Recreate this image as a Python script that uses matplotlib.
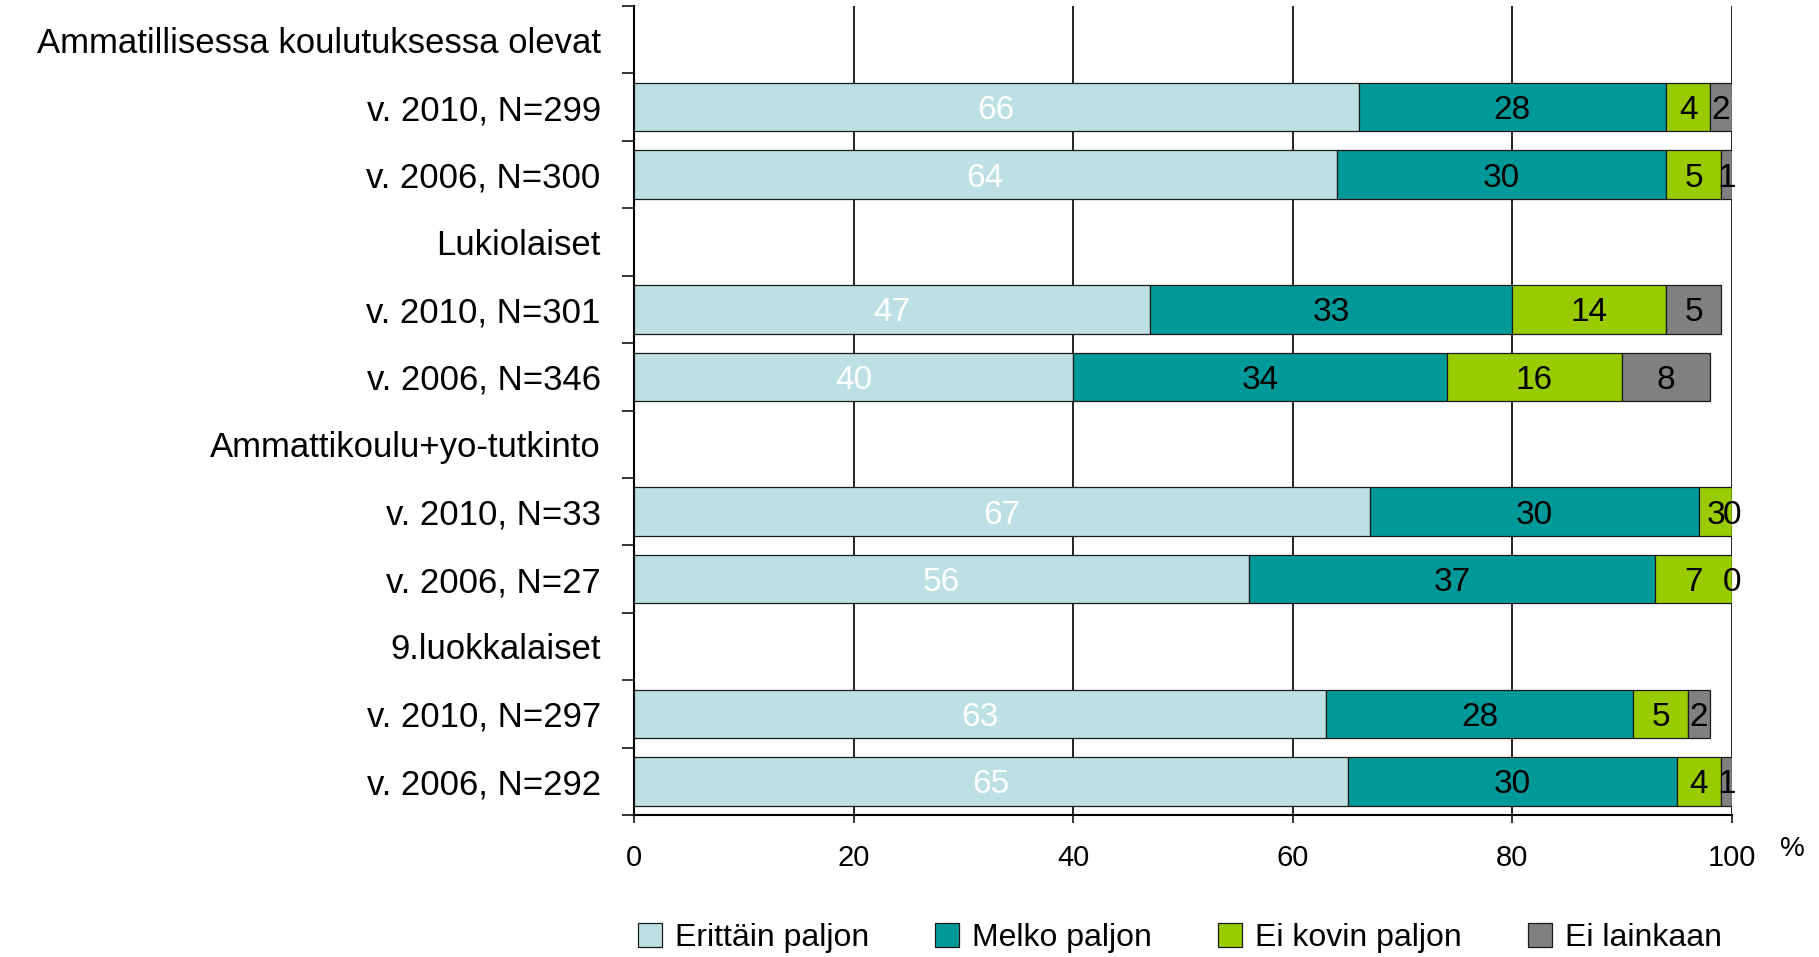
import matplotlib
matplotlib.use("Agg")
import matplotlib.pyplot as plt
from matplotlib.patches import Patch
import numpy as np

plt.rcParams['font.family'] = ['Liberation Sans', 'DejaVu Sans']

row_labels = [
    "Ammatillisessa koulutuksessa olevat",
    "v. 2010, N=299",
    "v. 2006, N=300",
    "Lukiolaiset",
    "v. 2010, N=301",
    "v. 2006, N=346",
    "Ammattikoulu+yo-tutkinto",
    "v. 2010, N=33",
    "v. 2006, N=27",
    "9.luokkalaiset",
    "v. 2010, N=297",
    "v. 2006, N=292",
]
# rows that carry bars (header rows have none)
bar_rows = [1, 2, 4, 5, 7, 8, 10, 11]

series_names = ["Erittäin paljon", "Melko paljon", "Ei kovin paljon", "Ei lainkaan"]
erittain = [66, 64, 47, 40, 67, 56, 63, 65]
melko = [28, 30, 33, 34, 30, 37, 28, 30]
ei_kovin = [4, 5, 14, 16, 3, 7, 5, 4]
ei_lainkaan = [2, 1, 5, 8, 0, 0, 2, 1]

colors = ["#BCE0E3", "#009999", "#99CC00", "#808080"]
label_colors = ["white", "black", "black", "black"]

W, H = 1819, 957
fig = plt.figure(figsize=(W / 100, H / 100), dpi=100)
ax = fig.add_axes([634 / W, 1 - 815 / H, (1732 - 634) / W, (815 - 6) / H])

series = [erittain, melko, ei_kovin, ei_lainkaan]
left = np.zeros(len(bar_rows))
for vals, col, lc in zip(series, colors, label_colors):
    vals = np.array(vals, dtype=float)
    ax.barh(bar_rows, vals, left=left, height=0.72, color=col,
            edgecolor="#1a1a1a", linewidth=0.9, zorder=3)
    for y, l, v in zip(bar_rows, left, vals):
        ax.text(l + v / 2, y, f"{int(v)}", ha="center", va="center_baseline",
                fontsize=24, color=lc, zorder=4)
    left = left + vals

ax.set_xlim(0, 100)
ax.set_ylim(11.5, -0.5)
ax.set_xticks([0, 20, 40, 60, 80, 100])
ax.set_yticks(range(len(row_labels)))
ax.set_yticklabels(row_labels, fontsize=25)
ax.set_yticks(np.arange(-0.5, 12, 1.0), minor=True)
ax.tick_params(axis="y", which="major", length=0, pad=24)
ax.tick_params(axis="y", which="minor", length=8.6, width=1.1, color="black")
ax.tick_params(axis="x", which="major", length=6, width=1.1, pad=15, labelsize=21)

ax.grid(axis="x", color="black", linewidth=1.2, zorder=0)
ax.set_axisbelow(True)
for s in ["top", "right"]:
    ax.spines[s].set_visible(False)
for s in ["left", "bottom"]:
    ax.spines[s].set_linewidth(1.5)
    ax.spines[s].set_color("black")

fig.text(1792 / W, 1 - 849 / H, "%", fontsize=20, ha="center", va="center")

handles = [Patch(facecolor=c, edgecolor="#1a1a1a", linewidth=0.9) for c in colors]
fig.legend(handles, series_names, loc="center left",
           bbox_to_anchor=(638 / W, 1 - 938 / H), ncol=4, frameon=False,
           fontsize=23, handlelength=0.75, handleheight=0.75, handletextpad=0.4,
           columnspacing=2.08, borderpad=0, borderaxespad=0)

fig.savefig("out.png", dpi=100)
